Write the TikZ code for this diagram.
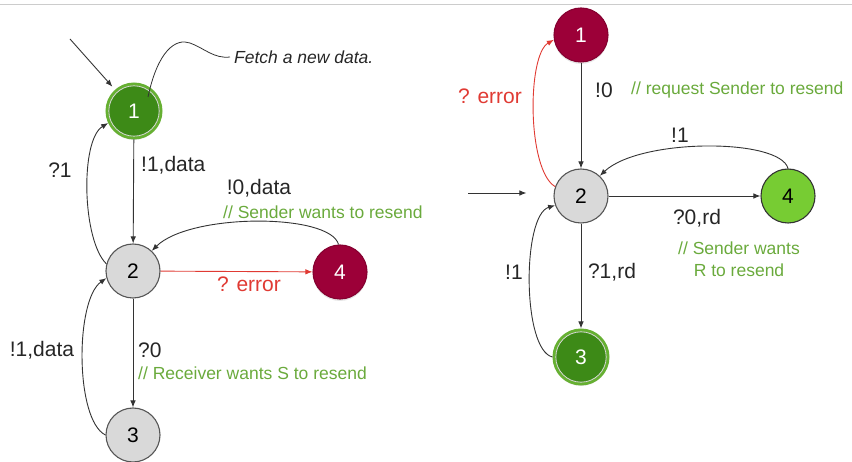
\documentclass[tikz,border=0pt]{standalone}
\usepackage{fontspec}
\setmainfont{Liberation Sans}
\usetikzlibrary{arrows.meta,shadows}
\definecolor{stategrey}{HTML}{D9D9D9}
\definecolor{stateline}{HTML}{555555}
\definecolor{errfill}{HTML}{9C0038}
\definecolor{accfill}{HTML}{3D8A17}
\definecolor{accring}{HTML}{66B032}
\definecolor{lightgreen}{HTML}{77CC33}
\definecolor{edgecol}{HTML}{333333}
\definecolor{errline}{HTML}{E03A33}
\definecolor{commentgreen}{HTML}{6AAA3C}
\begin{document}
\begin{tikzpicture}[x=1pt,y=-1pt,
  state/.style={circle, minimum size=54pt, inner sep=0pt, line width=1.1pt,
    font=\fontsize{21}{21}\selectfont},
  plain/.style={state, fill=stategrey, draw=stateline},
  errstate/.style={state, fill=errfill, draw=errfill!85!black, text=white,
    drop shadow={shadow xshift=0pt, shadow yshift=-2pt, opacity=0.2}},
  accstate/.style={state, fill=accfill, draw=accring, line width=3pt, text=white,
    drop shadow={shadow xshift=0pt, shadow yshift=-2pt, opacity=0.2}},
  okstate/.style={state, fill=lightgreen, draw=edgecol},
  edge/.style={draw=edgecol, line width=0.9pt, -{Latex[length=7pt,width=5.5pt]}},
  lbl/.style={font=\fontsize{21}{21}\selectfont, text=black!85, inner sep=0pt},
  errlbl/.style={lbl, text=errline},
  note/.style={font=\fontsize{17.5}{22}\selectfont, text=commentgreen, inner sep=0pt},
  ringmark/.style={draw=white!70!gray, line width=0.8pt}
]
\useasboundingbox (0,0) rectangle (852,462);
\draw[gray!40, line width=1pt] (0,5) -- (852,5);

% ---------------- left machine ----------------
\node[accstate] (L1) at (134,111) {1};
\draw[ringmark] (L1) circle (25.2pt);
\node[plain] (L2) at (133,271) {2};
\node[plain] (L3) at (133,435) {3};
\node[errstate] (L4) at (340,272) {4};

\coordinate (Linit) at (70,39);
\draw[edge, shorten >=4pt] (Linit) -- (L1);

\draw[edge] (L1) -- (L2);
\draw[edge, draw=errline] (L2) -- (L4);
\draw[edge] (L2) -- (L3);
\draw[edge] (L2.165) .. controls (82,240) and (80,140) .. (L1.205);
\draw[edge] (L3.180) .. controls (75,420) and (75,300) .. (L2.195);
\draw[edge] (L4.93) .. controls (330,213) and (190,213) .. (L2.47);

\node[lbl, anchor=west] (l12) at (141,165) {!1,data};
\node[lbl] (l21) at (60,170) {?1};
\node[lbl] (l42) at (259,188) {!0,data};
\node[note, anchor=west] (n42) at (223,212) {// Sender wants to resend};
\node[errlbl] (l24) at (249,284) {? error};
\node[lbl, anchor=west] (l23) at (138,350) {?0};
\node[note, anchor=west] (n23) at (138,373) {// Receiver wants S to resend};
\node[lbl] (l32) at (42,350) {!1,data};

\node[anchor=west, inner sep=0pt, font=\fontsize{17.5}{20}\selectfont\itshape, text=black!85]
  (fetch) at (234,57) {Fetch a new data.};
\coordinate (fetchpt) at (148,97);
\draw[draw=edgecol, line width=0.8pt] (fetchpt) .. controls (158,50) and (176,38) .. (190,43)
  .. controls (204,48) and (214,59) .. ([xshift=-4pt]fetch.west);

% ---------------- right machine ----------------
\node[errstate] (R1) at (581,35) {1};
\node[plain] (R2) at (581,196) {2};
\node[accstate] (R3) at (581,357) {3};
\draw[ringmark] (R3) circle (25.2pt);
\node[okstate] (R4) at (788,196) {4};

\coordinate (Rinit) at (468,193);
\draw[edge, shorten >=27pt] (Rinit) -- (R2.west |- Rinit);

\draw[edge] (R1) -- (R2);
\draw[edge] (R2) -- (R4);
\draw[edge] (R2) -- (R3);
\draw[edge, draw=errline] (R2.160) .. controls (527,170) and (527,55) .. (R1.190);
\draw[edge] (R3.180) .. controls (522,350) and (522,215) .. (R2.200);
\draw[edge] (R4.90) .. controls (780,138) and (640,138) .. (R2.47);

\node[errlbl] (r21) at (490,96) {? error};
\node[lbl] (r12) at (604,90) {!0};
\node[note, anchor=west] (n12) at (631,90) {// request Sender to resend};
\node[lbl] (r42) at (680,135) {!1};
\node[lbl] (r24) at (697,218) {?0,rd};
\node[note, align=center] (n24) at (739,259) {// Sender wants\\R to resend};
\node[lbl] (r23) at (612,272) {?1,rd};
\node[lbl] (r32) at (514,272) {!1};
\end{tikzpicture}
\end{document}
